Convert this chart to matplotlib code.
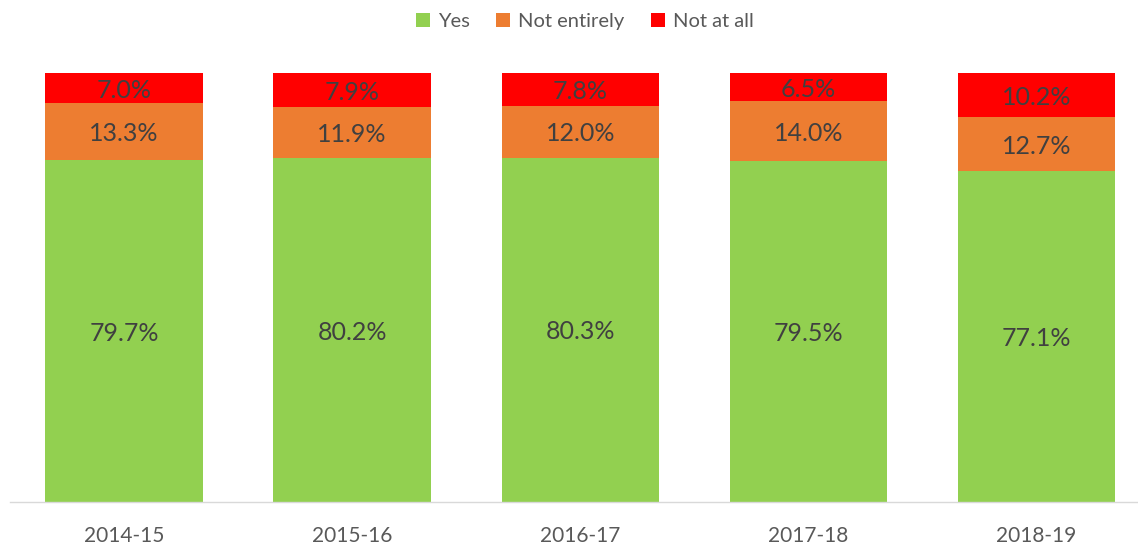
import numpy as np
import matplotlib.pyplot as plt

plt.rcParams['font.family'] = ['Lato', 'DejaVu Sans']

years = ['2014-15', '2015-16', '2016-17', '2017-18', '2018-19']
yes = [79.7, 80.2, 80.3, 79.5, 77.1]
not_entirely = [13.3, 11.9, 12.0, 14.0, 12.7]
not_at_all = [7.0, 7.9, 7.8, 6.5, 10.2]

series = [('Yes', yes, '#92D050'),
          ('Not entirely', not_entirely, '#ED7D31'),
          ('Not at all', not_at_all, '#FF0000')]

fig = plt.figure(figsize=(11.38, 5.44), dpi=100)
ax = fig.add_axes([10 / 1138, 42 / 544, 1128 / 1138, 429 / 544])

x = np.arange(len(years))
bottom = np.zeros(len(years))
for name, vals, col in series:
    vals = np.array(vals)
    ax.bar(x, vals, 0.69, bottom=bottom, color=col, label=name)
    for xi, b, v in zip(x, bottom, vals):
        ax.text(xi, b + v / 2 - 0.5, f'{v:.1f}%', ha='center', va='center',
                fontsize=18, color='#404040')
    bottom += vals

ax.set_xlim(-0.5, 4.445)
ax.set_ylim(0, 100)
ax.set_yticks([])
ax.set_xticks(x)
ax.set_xticklabels(years, fontsize=15, color='#595959')
ax.tick_params(axis='x', length=0, pad=17)
for s in ['top', 'left', 'right']:
    ax.spines[s].set_visible(False)
ax.spines['bottom'].set_color('#D9D9D9')
ax.spines['bottom'].set_linewidth(1)

leg = fig.legend(loc='upper center', bbox_to_anchor=(0.514, 1.01), ncol=3, frameon=False,
                 fontsize=14.5, handlelength=0.7, handleheight=0.7, handletextpad=0.4,
                 columnspacing=1.3)
for t in leg.get_texts():
    t.set_color('#595959')

fig.savefig('out.png', dpi=100)
